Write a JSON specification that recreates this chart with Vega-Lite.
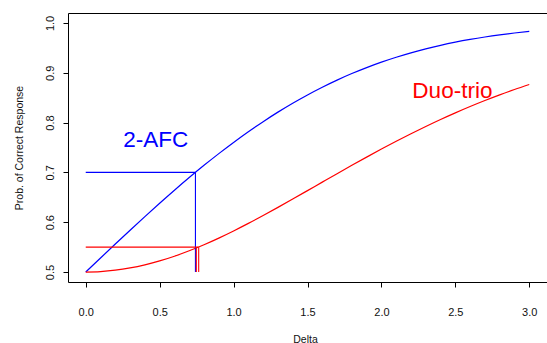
{
  "$schema": "https://vega.github.io/schema/vega-lite/v6.json",
  "autosize": {"type": "none"},
  "padding": {"left": 68, "top": 13, "right": 0, "bottom": 61},
  "width": 479,
  "height": 269,
  "background": "white",
  "config": {
    "view": {"stroke": "black", "strokeWidth": 1},
    "font": "Liberation Sans",
    "axis": {
      "grid": false,
      "domain": false,
      "tickColor": "black",
      "tickSize": 5,
      "tickWidth": 1,
      "labelFont": "Liberation Sans",
      "labelFontSize": 11,
      "labelColor": "#111",
      "titleFont": "Liberation Sans",
      "titleFontSize": 10.5,
      "titleFontWeight": "normal",
      "titleColor": "#111"
    }
  },
  "datasets": {
    "curves": [
      {"delta": 0.0, "p": 0.5, "method": "2-AFC"},
      {"delta": 0.1, "p": 0.52819, "method": "2-AFC"},
      {"delta": 0.2, "p": 0.55623, "method": "2-AFC"},
      {"delta": 0.3, "p": 0.584, "method": "2-AFC"},
      {"delta": 0.4, "p": 0.61135, "method": "2-AFC"},
      {"delta": 0.5, "p": 0.63816, "method": "2-AFC"},
      {"delta": 0.6, "p": 0.66431, "method": "2-AFC"},
      {"delta": 0.7, "p": 0.68969, "method": "2-AFC"},
      {"delta": 0.8, "p": 0.7142, "method": "2-AFC"},
      {"delta": 0.9, "p": 0.73774, "method": "2-AFC"},
      {"delta": 1.0, "p": 0.76025, "method": "2-AFC"},
      {"delta": 1.1, "p": 0.78167, "method": "2-AFC"},
      {"delta": 1.2, "p": 0.80193, "method": "2-AFC"},
      {"delta": 1.3, "p": 0.82101, "method": "2-AFC"},
      {"delta": 1.4, "p": 0.8389, "method": "2-AFC"},
      {"delta": 1.5, "p": 0.85558, "method": "2-AFC"},
      {"delta": 1.6, "p": 0.87105, "method": "2-AFC"},
      {"delta": 1.7, "p": 0.88533, "method": "2-AFC"},
      {"delta": 1.8, "p": 0.89845, "method": "2-AFC"},
      {"delta": 1.9, "p": 0.91044, "method": "2-AFC"},
      {"delta": 2.0, "p": 0.92135, "method": "2-AFC"},
      {"delta": 2.1, "p": 0.93121, "method": "2-AFC"},
      {"delta": 2.2, "p": 0.9401, "method": "2-AFC"},
      {"delta": 2.3, "p": 0.94806, "method": "2-AFC"},
      {"delta": 2.4, "p": 0.95516, "method": "2-AFC"},
      {"delta": 2.5, "p": 0.96145, "method": "2-AFC"},
      {"delta": 2.6, "p": 0.967, "method": "2-AFC"},
      {"delta": 2.7, "p": 0.97188, "method": "2-AFC"},
      {"delta": 2.8, "p": 0.97614, "method": "2-AFC"},
      {"delta": 2.9, "p": 0.97985, "method": "2-AFC"},
      {"delta": 3.0, "p": 0.98305, "method": "2-AFC"},
      {"delta": 0.0, "p": 0.5, "method": "Duo-trio"},
      {"delta": 0.1, "p": 0.50092, "method": "Duo-trio"},
      {"delta": 0.2, "p": 0.50366, "method": "Duo-trio"},
      {"delta": 0.3, "p": 0.50819, "method": "Duo-trio"},
      {"delta": 0.4, "p": 0.51444, "method": "Duo-trio"},
      {"delta": 0.5, "p": 0.52235, "method": "Duo-trio"},
      {"delta": 0.6, "p": 0.53179, "method": "Duo-trio"},
      {"delta": 0.7, "p": 0.54267, "method": "Duo-trio"},
      {"delta": 0.8, "p": 0.55484, "method": "Duo-trio"},
      {"delta": 0.9, "p": 0.56816, "method": "Duo-trio"},
      {"delta": 1.0, "p": 0.58247, "method": "Duo-trio"},
      {"delta": 1.1, "p": 0.59763, "method": "Duo-trio"},
      {"delta": 1.2, "p": 0.61347, "method": "Duo-trio"},
      {"delta": 1.3, "p": 0.62982, "method": "Duo-trio"},
      {"delta": 1.4, "p": 0.64653, "method": "Duo-trio"},
      {"delta": 1.5, "p": 0.66347, "method": "Duo-trio"},
      {"delta": 1.6, "p": 0.68046, "method": "Duo-trio"},
      {"delta": 1.7, "p": 0.69741, "method": "Duo-trio"},
      {"delta": 1.8, "p": 0.71419, "method": "Duo-trio"},
      {"delta": 1.9, "p": 0.73068, "method": "Duo-trio"},
      {"delta": 2.0, "p": 0.74682, "method": "Duo-trio"},
      {"delta": 2.1, "p": 0.7625, "method": "Duo-trio"},
      {"delta": 2.2, "p": 0.77766, "method": "Duo-trio"},
      {"delta": 2.3, "p": 0.79225, "method": "Duo-trio"},
      {"delta": 2.4, "p": 0.80624, "method": "Duo-trio"},
      {"delta": 2.5, "p": 0.81958, "method": "Duo-trio"},
      {"delta": 2.6, "p": 0.83226, "method": "Duo-trio"},
      {"delta": 2.7, "p": 0.84431, "method": "Duo-trio"},
      {"delta": 2.8, "p": 0.85569, "method": "Duo-trio"},
      {"delta": 2.9, "p": 0.86639, "method": "Duo-trio"},
      {"delta": 3.0, "p": 0.87645, "method": "Duo-trio"}
    ],
    "segments": [
      {"x": 0, "x2": 0.742, "y": 0.7, "y2": 0.7, "method": "2-AFC"},
      {"x": 0.742, "x2": 0.742, "y": 0.7, "y2": 0.5, "method": "2-AFC"},
      {"x": 0, "x2": 0.762, "y": 0.55, "y2": 0.55, "method": "Duo-trio"},
      {"x": 0.748, "x2": 0.748, "y": 0.55, "y2": 0.5, "method": "Duo-trio"},
      {"x": 0.764, "x2": 0.764, "y": 0.55, "y2": 0.5, "method": "Duo-trio"}
    ],
    "labels": [
      {"x": 0.474, "y": 0.7516, "label": "2-AFC", "method": "2-AFC"},
      {"x": 2.48, "y": 0.8498, "label": "Duo-trio", "method": "Duo-trio"}
    ]
  },
  "layer": [
    {
      "data": {"name": "curves"},
      "mark": {"type": "line", "strokeWidth": 1.2, "interpolate": "monotone"},
      "encoding": {
        "x": {
          "field": "delta", "type": "quantitative",
          "scale": {"domain": [-0.12, 3.12], "nice": false, "zero": false},
          "axis": {
            "title": "Delta",
            "values": [0, 0.5, 1, 1.5, 2, 2.5, 3],
            "format": ".1f",
            "labelBaseline": "alphabetic",
            "labelPadding": 28,
            "titleBaseline": "alphabetic",
            "titleX": 237,
            "titleY": 60,
            "titleAnchor": "middle",
            "titleAlign": "center"
          }
        },
        "y": {
          "field": "p", "type": "quantitative",
          "scale": {"domain": [0.48, 1.02], "nice": false, "zero": false},
          "axis": {
            "title": "Prob. of Correct Response",
            "values": [0.5, 0.6, 0.7, 0.8, 0.9, 1.0],
            "format": ".1f",
            "labelAngle": -90,
            "labelAlign": "center",
            "labelBaseline": "alphabetic",
            "labelPadding": 10,
            "titleAngle": -90,
            "titleBaseline": "alphabetic",
            "titleAlign": "center",
            "titleX": -46,
            "titleY": 134.5
          }
        },
        "color": {
          "field": "method", "type": "nominal",
          "scale": {"domain": ["2-AFC", "Duo-trio"], "range": ["#0000FF", "#FF0000"]},
          "legend": null
        },
        "detail": {"field": "method"}
      }
    },
    {
      "data": {"name": "segments"},
      "mark": {"type": "rule", "strokeWidth": 1.1},
      "encoding": {
        "x": {"field": "x", "type": "quantitative"},
        "x2": {"field": "x2"},
        "y": {"field": "y", "type": "quantitative"},
        "y2": {"field": "y2"},
        "color": {"field": "method", "type": "nominal", "legend": null}
      }
    },
    {
      "data": {"name": "labels"},
      "mark": {"type": "text", "font": "Liberation Sans", "fontSize": 22.5, "align": "center", "baseline": "alphabetic"},
      "encoding": {
        "x": {"field": "x", "type": "quantitative"},
        "y": {"field": "y", "type": "quantitative"},
        "text": {"field": "label"},
        "color": {"field": "method", "type": "nominal", "legend": null}
      }
    }
  ]
}
